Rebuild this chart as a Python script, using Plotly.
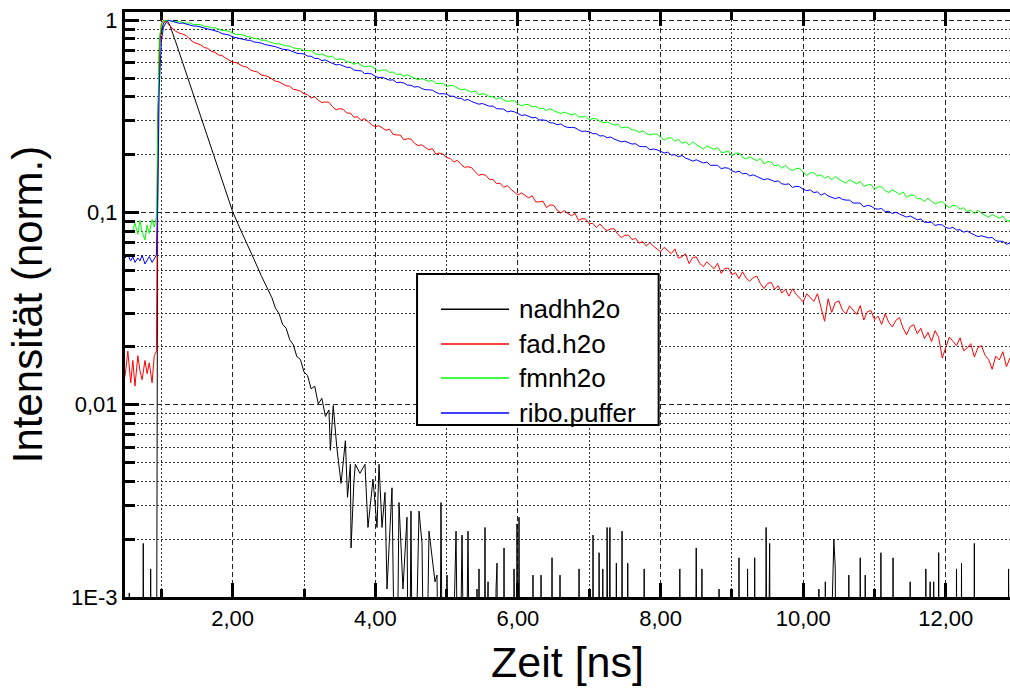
import plotly.graph_objects as go

# ---------------- data ----------------
# shared time axis (ns) for fad.h2o, fmnh2o, ribo.puffer
time_ns = [
    0.49, 0.53, 0.57, 0.60, 0.63, 0.67, 0.70, 0.73, 0.77, 0.80, 0.83, 0.87,
    0.90, 0.93, 0.95, 0.97, 1.00, 1.03, 1.07, 1.10, 1.15,
    1.20, 1.25, 1.30, 1.35, 1.40, 1.45, 1.50, 1.55, 1.60, 1.65, 1.70, 1.75, 1.80, 1.85, 1.90, 1.95, 2.00,
    2.05, 2.10, 2.15, 2.20, 2.25, 2.30, 2.35, 2.40, 2.45, 2.50, 2.55, 2.60, 2.65, 2.70, 2.75, 2.80, 2.85, 2.90, 2.95, 3.00,
    3.05, 3.10, 3.15, 3.20, 3.25, 3.30, 3.35, 3.40, 3.45, 3.50, 3.55, 3.60, 3.65, 3.70, 3.75, 3.80, 3.85, 3.90, 3.95, 4.00,
    4.05, 4.10, 4.15, 4.20, 4.25, 4.30, 4.35, 4.40, 4.45, 4.50, 4.55, 4.60, 4.65, 4.70, 4.75, 4.80, 4.85, 4.90, 4.95, 5.00,
    5.05, 5.10, 5.15, 5.20, 5.25, 5.30, 5.35, 5.40, 5.45, 5.50, 5.55, 5.60, 5.65, 5.70, 5.75, 5.80, 5.85, 5.90, 5.95, 6.00,
    6.05, 6.10, 6.15, 6.20, 6.25, 6.30, 6.35, 6.40, 6.45, 6.50, 6.55, 6.60, 6.65, 6.70, 6.75, 6.80, 6.85, 6.90, 6.95, 7.00,
    7.05, 7.10, 7.15, 7.20, 7.25, 7.30, 7.35, 7.40, 7.45, 7.50, 7.55, 7.60, 7.65, 7.70, 7.75, 7.80, 7.85, 7.90, 7.95, 8.00,
    8.05, 8.10, 8.15, 8.20, 8.25, 8.30, 8.35, 8.40, 8.45, 8.50, 8.55, 8.60, 8.65, 8.70, 8.75, 8.80, 8.85, 8.90, 8.95, 9.00,
    9.05, 9.10, 9.15, 9.20, 9.25, 9.30, 9.35, 9.40, 9.45, 9.50, 9.55, 9.60, 9.65, 9.70, 9.75, 9.80, 9.85, 9.90, 9.95, 10.00,
    10.05, 10.10, 10.15, 10.20, 10.25, 10.30, 10.35, 10.40, 10.45, 10.50, 10.55, 10.60, 10.65, 10.70, 10.75, 10.80, 10.85, 10.90, 10.95, 11.00,
    11.05, 11.10, 11.15, 11.20, 11.25, 11.30, 11.35, 11.40, 11.45, 11.50, 11.55, 11.60, 11.65, 11.70, 11.75, 11.80, 11.85, 11.90, 11.95, 12.00,
    12.05, 12.10, 12.15, 12.20, 12.25, 12.30, 12.35, 12.40, 12.45, 12.50, 12.55, 12.60, 12.65, 12.70, 12.75, 12.80, 12.85, 12.90,
]

fad_h2o = [
    0.014, 0.019, 0.013, 0.017, 0.0125, 0.018, 0.015, 0.0135, 0.017, 0.0145, 0.0165, 0.013,
    0.018, 0.019, 0.20, 0.70, 0.96, 1.0, 0.98, 0.95, 0.91,
    0.878, 0.857, 0.848, 0.830, 0.798, 0.769, 0.757, 0.745, 0.722, 0.714, 0.690, 0.682, 0.660, 0.656, 0.636, 0.619, 0.605,
    0.602, 0.588, 0.575, 0.571, 0.551, 0.543, 0.538, 0.519, 0.516, 0.508, 0.493, 0.482, 0.478, 0.467, 0.456, 0.454, 0.437, 0.434, 0.428, 0.415,
    0.410, 0.393, 0.401, 0.384, 0.373, 0.376, 0.374, 0.355, 0.342, 0.347, 0.344, 0.329, 0.329, 0.313, 0.315, 0.301, 0.308, 0.297, 0.286, 0.279,
    0.283, 0.275, 0.268, 0.271, 0.255, 0.253, 0.253, 0.239, 0.242, 0.241, 0.229, 0.223, 0.225, 0.218, 0.212, 0.215, 0.201, 0.204, 0.201, 0.193,
    0.191, 0.183, 0.187, 0.178, 0.172, 0.173, 0.171, 0.163, 0.156, 0.158, 0.156, 0.1485, 0.1488, 0.1415, 0.142, 0.1352, 0.138, 0.1323, 0.1274, 0.1232,
    0.1266, 0.1229, 0.1192, 0.1221, 0.1136, 0.1136, 0.1147, 0.1062, 0.1095, 0.109, 0.1029, 0.0995, 0.1023, 0.099, 0.0961, 0.099, 0.091, 0.093, 0.0924, 0.0874,
    0.0878, 0.0836, 0.0872, 0.0829, 0.0805, 0.0821, 0.0823, 0.0772, 0.0741, 0.0762, 0.0763, 0.0723, 0.0734, 0.0693, 0.0706, 0.0669, 0.0698, 0.0668, 0.0644, 0.0625,
    0.0659, 0.0635, 0.0611, 0.0647, 0.0579, 0.0589, 0.061, 0.0542, 0.0583, 0.0588, 0.0543, 0.0523, 0.0554, 0.0531, 0.0510, 0.0544, 0.0482, 0.0511, 0.0514, 0.0475,
    0.0486, 0.0453, 0.0492, 0.0456, 0.0439, 0.0459, 0.0467, 0.0427, 0.0402, 0.0427, 0.0433, 0.0400, 0.0416, 0.0381, 0.0399, 0.0367, 0.0401, 0.0376, 0.0357, 0.0343,
    0.0378, 0.0361, 0.0345, 0.0378, 0.0324, 0.0272, 0.0356, 0.0302, 0.0340, 0.0347, 0.0311, 0.0297, 0.0327, 0.0310, 0.0295, 0.0328, 0.0276, 0.0305, 0.0309, 0.0277,
    0.0289, 0.0262, 0.0297, 0.0268, 0.0254, 0.0275, 0.0284, 0.0251, 0.0231, 0.0255, 0.0261, 0.0234, 0.0250, 0.0221, 0.0238, 0.0213, 0.0243, 0.0224, 0.0175, 0.0199,
    0.0225, 0.0214, 0.0203, 0.0223, 0.0191, 0.0197, 0.0208, 0.0177, 0.0198, 0.0203, 0.0181, 0.0172, 0.0153, 0.0179, 0.0171, 0.0189, 0.0158, 0.0175,
]

fmnh2o = [
    None, None, None, 0.081, 0.088, 0.077, 0.091, 0.079, 0.072, 0.086, 0.078, 0.092,
    0.084, 0.095, 0.35, 0.80, 0.95, 0.99, 1.0, 0.993, 0.99,
    0.979, 0.984, 0.975, 0.965, 0.969, 0.949, 0.952, 0.948, 0.931, 0.928, 0.912, 0.915, 0.899, 0.886, 0.883, 0.877, 0.858,
    0.844, 0.843, 0.838, 0.822, 0.819, 0.803, 0.802, 0.787, 0.789, 0.776, 0.764, 0.754, 0.755, 0.745, 0.735, 0.735, 0.718, 0.713, 0.711, 0.694,
    0.697, 0.695, 0.673, 0.662, 0.668, 0.655, 0.643, 0.651, 0.624, 0.630, 0.627, 0.607, 0.607, 0.590, 0.601, 0.584, 0.573, 0.577, 0.576, 0.557,
    0.544, 0.551, 0.551, 0.535, 0.538, 0.521, 0.526, 0.511, 0.521, 0.509, 0.498, 0.490, 0.498, 0.490, 0.481, 0.488, 0.469, 0.468, 0.470, 0.452,
    0.458, 0.456, 0.443, 0.434, 0.439, 0.431, 0.423, 0.429, 0.410, 0.415, 0.412, 0.400, 0.400, 0.389, 0.396, 0.385, 0.378, 0.381, 0.381, 0.368,
    0.359, 0.364, 0.365, 0.354, 0.357, 0.347, 0.349, 0.339, 0.347, 0.339, 0.332, 0.327, 0.333, 0.327, 0.322, 0.327, 0.315, 0.314, 0.316, 0.304,
    0.308, 0.307, 0.298, 0.293, 0.296, 0.290, 0.285, 0.289, 0.275, 0.278, 0.277, 0.269, 0.268, 0.261, 0.266, 0.258, 0.253, 0.256, 0.256, 0.247,
    0.238, 0.244, 0.245, 0.235, 0.240, 0.229, 0.233, 0.224, 0.233, 0.226, 0.219, 0.214, 0.222, 0.217, 0.213, 0.218, 0.205, 0.206, 0.209, 0.197,
    0.203, 0.204, 0.194, 0.190, 0.195, 0.190, 0.186, 0.191, 0.179, 0.184, 0.183, 0.175, 0.177, 0.170, 0.176, 0.169, 0.165, 0.169, 0.170, 0.162,
    0.156, 0.161, 0.161, 0.155, 0.157, 0.151, 0.154, 0.148, 0.154, 0.149, 0.145, 0.142, 0.148, 0.145, 0.141, 0.145, 0.137, 0.139, 0.140, 0.132,
    0.136, 0.136, 0.130, 0.127, 0.131, 0.128, 0.124, 0.128, 0.120, 0.123, 0.123, 0.118, 0.118, 0.114, 0.119, 0.114, 0.111, 0.113, 0.114, 0.109,
    0.106, 0.109, 0.108, 0.104, 0.106, 0.101, 0.103, 0.0986, 0.1027, 0.0993, 0.0965, 0.0944, 0.0977, 0.0956, 0.0934, 0.0958, 0.0903, 0.0907,
]

ribo_puffer = [
    0.058, 0.060, 0.056, 0.059, 0.055, 0.058, 0.056, 0.060, 0.054, 0.057, 0.059, 0.055,
    0.058, 0.060, 0.12, 0.45, 0.78, 0.92, 0.98, 1.0, 0.99,
    0.977, 0.964, 0.967, 0.955, 0.943, 0.933, 0.933, 0.922, 0.911, 0.906, 0.887, 0.878, 0.872, 0.852, 0.847, 0.838, 0.820,
    0.811, 0.808, 0.798, 0.788, 0.786, 0.770, 0.767, 0.761, 0.748, 0.742, 0.730, 0.729, 0.717, 0.707, 0.704, 0.698, 0.685, 0.674, 0.671, 0.668,
    0.651, 0.650, 0.633, 0.633, 0.617, 0.622, 0.608, 0.596, 0.586, 0.589, 0.578, 0.569, 0.569, 0.551, 0.547, 0.546, 0.528, 0.530, 0.525, 0.511,
    0.503, 0.505, 0.496, 0.488, 0.490, 0.474, 0.476, 0.472, 0.460, 0.459, 0.449, 0.452, 0.442, 0.435, 0.435, 0.433, 0.422, 0.414, 0.415, 0.413,
    0.403, 0.402, 0.393, 0.393, 0.383, 0.387, 0.378, 0.372, 0.366, 0.369, 0.363, 0.357, 0.358, 0.347, 0.346, 0.345, 0.334, 0.337, 0.334, 0.326,
    0.320, 0.322, 0.316, 0.311, 0.312, 0.303, 0.303, 0.301, 0.293, 0.292, 0.286, 0.289, 0.281, 0.277, 0.277, 0.276, 0.269, 0.264, 0.265, 0.263,
    0.257, 0.257, 0.250, 0.251, 0.245, 0.247, 0.241, 0.238, 0.233, 0.235, 0.232, 0.227, 0.228, 0.221, 0.220, 0.220, 0.212, 0.214, 0.212, 0.207,
    0.204, 0.206, 0.199, 0.200, 0.195, 0.198, 0.192, 0.189, 0.185, 0.188, 0.185, 0.181, 0.183, 0.176, 0.176, 0.176, 0.169, 0.171, 0.170, 0.165,
    0.162, 0.164, 0.159, 0.160, 0.155, 0.157, 0.154, 0.151, 0.148, 0.150, 0.147, 0.145, 0.146, 0.141, 0.140, 0.141, 0.135, 0.137, 0.136, 0.132,
    0.130, 0.131, 0.127, 0.128, 0.123, 0.126, 0.122, 0.120, 0.118, 0.120, 0.117, 0.116, 0.116, 0.112, 0.112, 0.112, 0.107, 0.109, 0.108, 0.105,
    0.104, 0.105, 0.101, 0.1015, 0.0987, 0.1004, 0.0982, 0.0962, 0.0946, 0.0959, 0.0933, 0.0917, 0.0925, 0.0891, 0.0889, 0.0890, 0.0856, 0.0866, 0.0861, 0.0836,
    0.0826, 0.0837, 0.0811, 0.0814, 0.0790, 0.0801, 0.0781, 0.0764, 0.0749, 0.0757, 0.0747, 0.0738, 0.0742, 0.0713, 0.0709, 0.0708, 0.0684, 0.0694,
]

# nadhh2o: own time axis; 1e-4 = zero counts (below the 1E-3 axis floor)
nadh_time = [
    0.49, 0.54, 0.55, 0.56, 0.735, 0.746, 0.757, 0.84, 0.85, 0.86, 0.93,
    0.95, 0.98, 1.03, 1.08, 1.12, 1.2, 1.3, 1.4, 1.5, 1.6, 1.7, 1.8, 1.9, 2.0,
    2.1, 2.2, 2.3, 2.4, 2.5, 2.55, 2.6, 2.65, 2.7, 2.75, 2.8, 2.85, 2.9, 2.95,
    3.0, 3.05, 3.1, 3.15, 3.2, 3.25, 3.3, 3.35, 3.37, 3.41, 3.46, 3.52, 3.58,
    3.61, 3.65, 3.66, 3.70, 3.72, 3.785, 3.855, 3.897, 3.968, 4.024, 4.052,
    4.094, 4.136, 4.164, 4.234, 4.29, 4.332, 4.388, 4.444, 4.472, 4.50, 4.53,
    4.613, 4.655, 4.697, 4.753, 4.795, 4.837, 4.865, 4.90, 4.921, 4.95, 5.006,
    5.048, 5.132, 5.17, 5.216, 5.258, 5.30, 5.33,
    5.415, 5.426, 5.44, 5.454, 5.47, 5.527, 5.538, 5.55, 5.581, 5.59,
    5.68, 5.693, 5.707, 5.72, 5.795, 5.805, 5.815, 5.935, 5.945, 5.955,
    5.977, 5.987, 6.001, 6.015, 6.03, 6.20, 6.211, 6.22, 6.313, 6.324, 6.335,
    6.467, 6.478, 6.49, 6.58, 6.59, 6.60, 6.846, 6.857, 6.87, 7.042, 7.053,
    7.065, 7.127, 7.138, 7.15, 7.18, 7.19, 7.20, 7.24, 7.25, 7.27, 7.29,
    7.30, 7.37, 7.38, 7.39, 7.45, 7.46, 7.47, 7.53, 7.54, 7.55, 7.76, 7.77,
    7.78, 8.26, 8.27, 8.28, 8.48, 8.50, 8.52, 8.57, 8.58, 8.59, 8.81, 8.82,
    8.83, 9.09, 9.10, 9.11, 9.21, 9.22, 9.23, 9.31, 9.32, 9.33, 9.47, 9.48,
    9.50, 9.53, 9.54, 10.21, 10.22, 10.23, 10.30, 10.31, 10.32, 10.34, 10.43,
    10.45, 10.46, 10.63, 10.64, 10.65, 10.79, 10.80, 10.81, 10.86, 10.87,
    10.88, 11.08, 11.09, 11.10, 11.25, 11.26, 11.27, 11.49, 11.50, 11.51,
    11.71, 11.72, 11.73, 11.77, 11.78, 11.79, 11.82, 11.83, 11.84, 11.89,
    11.90, 11.91, 12.14, 12.15, 12.16, 12.21, 12.22, 12.23, 12.39, 12.40,
    12.41, 12.87, 12.88, 12.89, 12.9,
]
nadhh2o = [
    1e-4, 1e-4, 0.00105, 1e-4, 1e-4, 0.0019, 1e-4, 1e-4, 0.0014, 1e-4, 1e-4,
    0.30, 0.80, 0.97, 1.0, 0.94, 0.774, 0.60, 0.46, 0.36, 0.28, 0.214, 0.168, 0.128, 0.101,
    0.083, 0.068, 0.057, 0.047, 0.039, 0.036, 0.0318, 0.0298, 0.0262, 0.025, 0.0218, 0.0205, 0.0178, 0.0172,
    0.0148, 0.0142, 0.0121, 0.0125, 0.0101, 0.0108, 0.0087, 0.0094, 0.0058, 0.0099, 0.0060, 0.0039, 0.0065,
    0.0033, 0.0049, 0.0018, 0.0040, 0.0049, 0.0044, 0.0049, 0.0023, 0.0041, 0.0023, 0.0049,
    0.0023, 0.0035, 0.0011, 0.0037, 1e-4, 0.0031, 0.0011, 0.0026, 1e-4, 0.0028, 1e-4,
    0.0028, 0.0019, 1e-4, 0.0022, 0.0016, 0.0012, 0.0013, 1e-4, 0.0031, 1e-4, 0.0013,
    1e-4, 0.0022, 1e-4, 0.0021, 1e-4, 0.0022, 1e-4,
    1e-4, 0.0011, 1e-4, 0.0014, 1e-4, 1e-4, 0.0023, 1e-4, 0.0012, 1e-4,
    1e-4, 0.0011, 0.0015, 1e-4, 1e-4, 0.0018, 1e-4, 1e-4, 0.0014, 1e-4,
    1e-4, 0.0024, 1e-4, 0.0026, 1e-4, 1e-4, 0.0013, 1e-4, 1e-4, 0.0013, 1e-4,
    1e-4, 0.0016, 1e-4, 1e-4, 0.0013, 1e-4, 1e-4, 0.0014, 1e-4, 1e-4, 0.0021,
    1e-4, 1e-4, 0.0017, 1e-4, 1e-4, 0.0014, 1e-4, 1e-4, 0.0023, 1e-4, 0.0023,
    1e-4, 1e-4, 0.0015, 1e-4, 1e-4, 0.0022, 1e-4, 1e-4, 0.0015, 1e-4, 1e-4, 0.0014,
    1e-4, 1e-4, 0.0014, 1e-4, 1e-4, 0.0018, 1e-4, 1e-4, 0.0014, 1e-4, 1e-4, 0.0011,
    1e-4, 1e-4, 0.0016, 1e-4, 1e-4, 0.0014, 1e-4, 1e-4, 0.0016, 1e-4, 1e-4, 0.0023,
    1e-4, 0.0019, 1e-4, 1e-4, 0.0011, 1e-4, 1e-4, 0.0012, 1e-4, 1e-4, 0.0020,
    0.0014, 1e-4, 1e-4, 0.0013, 1e-4, 1e-4, 0.0016, 1e-4, 1e-4, 0.0013,
    1e-4, 1e-4, 0.0017, 1e-4, 1e-4, 0.0016, 1e-4, 1e-4, 0.0012, 1e-4,
    1e-4, 0.0014, 1e-4, 1e-4, 0.0012, 1e-4, 1e-4, 0.0012, 1e-4, 1e-4,
    0.0017, 1e-4, 1e-4, 0.0014, 1e-4, 1e-4, 0.0015, 1e-4, 1e-4, 0.0019,
    1e-4, 1e-4, 0.0014, 1e-4, 1e-4,
]

series_names = ["nadhh2o", "fad.h2o", "fmnh2o", "ribo.puffer"]
series_colors = ["#000000", "#ff0000", "#00ff00", "#0000ff"]

x_major = [2, 4, 6, 8, 10, 12]
x_major_text = ["2,00", "4,00", "6,00", "8,00", "10,00", "12,00"]
x_minor = [1, 3, 5, 7, 9, 11]
y_major = [0.001, 0.01, 0.1, 1]
y_major_text = ["1E-3", "0,01", "0,1", "1"]
y_minor = [0.002, 0.003, 0.004, 0.005, 0.006, 0.007, 0.008, 0.009,
           0.02, 0.03, 0.04, 0.05, 0.06, 0.07, 0.08, 0.09,
           0.2, 0.3, 0.4, 0.5, 0.6, 0.7, 0.8, 0.9]

# ---------------- figure ----------------
fig = go.Figure()
xs = [nadh_time, time_ns, time_ns, time_ns]
ys = [nadhh2o, fad_h2o, fmnh2o, ribo_puffer]
for name, color, x, y in zip(series_names, series_colors, xs, ys):
    fig.add_trace(go.Scatter(x=x, y=y, mode="lines", name=name,
                             line=dict(color=color, width=1), showlegend=False))

FONT = "Liberation Sans, Arial, sans-serif"

# legend box (drawn in paper coordinates, like the original boxed legend)
shapes = [dict(type="rect", xref="paper", yref="paper",
               x0=0.330, x1=0.603, y0=0.294, y1=0.552,
               line=dict(color="black", width=2), fillcolor="white", layer="above")]
annotations = []
row_y = [0.492, 0.4325, 0.3745, 0.3145]
for name, color, yy in zip(series_names, series_colors, row_y):
    shapes.append(dict(type="line", xref="paper", yref="paper",
                       x0=0.357, x1=0.434, y0=yy, y1=yy,
                       line=dict(color=color, width=1.5), layer="above"))
    annotations.append(dict(xref="paper", yref="paper", x=0.443, y=yy,
                            xanchor="left", yanchor="middle", text=name,
                            showarrow=False, font=dict(size=26, family=FONT, color="black")))

fig.update_layout(
    width=1010, height=689,
    margin=dict(l=125, r=0, t=12, b=92),
    plot_bgcolor="white", paper_bgcolor="white",
    font=dict(family=FONT, color="black"),
    shapes=shapes, annotations=annotations, showlegend=False,
)
fig.update_xaxes(
    range=[0.49, 12.9], tickmode="array", tickvals=x_major, ticktext=x_major_text,
    ticks="inside", ticklen=14, tickwidth=3, tickcolor="black",
    tickfont=dict(size=22), showline=True, linewidth=3, linecolor="black",
    mirror="ticks", zeroline=False,
    showgrid=True, gridcolor="#222", gridwidth=1, griddash="5px,3px",
    minor=dict(tickmode="array", tickvals=x_minor, ticks="inside", ticklen=8,
               tickwidth=2.5, tickcolor="black", showgrid=True, gridcolor="#333",
               gridwidth=1, griddash="2px,2px"),
    title=dict(text="Zeit [ns]", font=dict(size=43), standoff=17),
)
fig.update_yaxes(
    type="log", range=[-3, 0.043], tickmode="array", tickvals=y_major,
    ticktext=y_major_text,
    ticks="inside", ticklen=14, tickwidth=3, tickcolor="black",
    tickfont=dict(size=22), showline=True, linewidth=3, linecolor="black",
    mirror=False, zeroline=False,
    showgrid=True, gridcolor="#222", gridwidth=1, griddash="5px,3px",
    minor=dict(tickmode="array", tickvals=y_minor, ticks="inside", ticklen=10,
               tickwidth=3, tickcolor="black", showgrid=True, gridcolor="#333",
               gridwidth=1, griddash="2px,2px"),
    title=dict(text="Intensität (norm.)", font=dict(size=42), standoff=16),
)

fig.write_html("out.html")
